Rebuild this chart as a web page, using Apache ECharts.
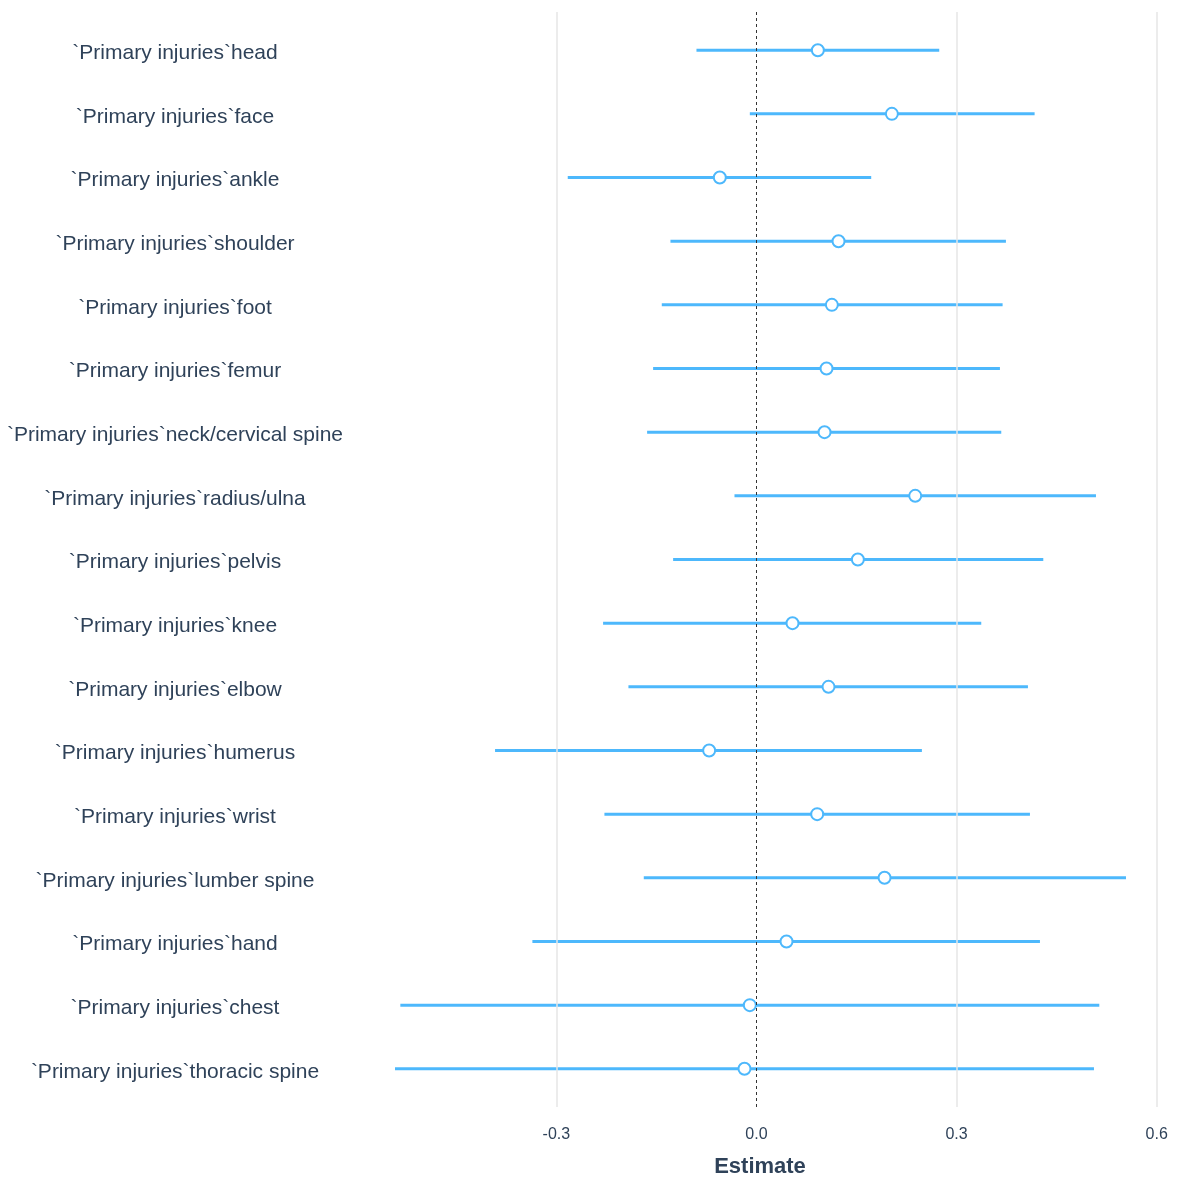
<!DOCTYPE html>
<html>
<head>
<meta charset="utf-8">
<title>Primary injuries estimates</title>
<script src="https://cdn.jsdelivr.net/npm/echarts@6/dist/echarts.min.js"></script>
<style>
  html, body { margin: 0; padding: 0; background: #ffffff; }
  #chart { width: 1179px; height: 1180px; }
</style>
</head>
<body>
<div id="chart"></div>
<script>
// Coefficient terms, top to bottom
const categories = [
  '`Primary injuries`head',
  '`Primary injuries`face',
  '`Primary injuries`ankle',
  '`Primary injuries`shoulder',
  '`Primary injuries`foot',
  '`Primary injuries`femur',
  '`Primary injuries`neck/cervical spine',
  '`Primary injuries`radius/ulna',
  '`Primary injuries`pelvis',
  '`Primary injuries`knee',
  '`Primary injuries`elbow',
  '`Primary injuries`humerus',
  '`Primary injuries`wrist',
  '`Primary injuries`lumber spine',
  '`Primary injuries`hand',
  '`Primary injuries`chest',
  '`Primary injuries`thoracic spine'
];

// Point estimates
const estimates = [0.092, 0.203, -0.055, 0.123, 0.113, 0.105, 0.102, 0.238, 0.152, 0.054, 0.108, -0.071, 0.091, 0.192, 0.045, -0.010, -0.018];

// Lower and upper interval bounds
const lower = [-0.090, -0.010, -0.283, -0.129, -0.142, -0.155, -0.164, -0.033, -0.125, -0.230, -0.192, -0.392, -0.228, -0.169, -0.336, -0.534, -0.542];
const upper = [0.274, 0.417, 0.172, 0.374, 0.369, 0.365, 0.367, 0.509, 0.430, 0.337, 0.407, 0.248, 0.410, 0.554, 0.425, 0.514, 0.506];

// Estimate axis ticks
const xTicks = [-0.3, 0.0, 0.3, 0.6];

const BLUE = '#4db8fc';
const TEXT = '#2f4259';
const FONT = '"Liberation Sans", Arial, sans-serif';

const rowIndex = categories.map((_, i) => i);
const intervalData = categories.map((_, i) => [lower[i], i, upper[i]]);
const pointData = categories.map((_, i) => [estimates[i], i]);

const chart = echarts.init(document.getElementById('chart'), null, { renderer: 'canvas' });

chart.setOption({
  backgroundColor: '#ffffff',
  animation: false,
  graphic: [
    {
      // axis title
      type: 'text',
      x: 760,
      y: 1167,
      style: {
        text: 'Estimate',
        fontFamily: FONT,
        fontSize: 22,
        fontWeight: 'bold',
        fill: TEXT,
        textAlign: 'center',
        textVerticalAlign: 'middle'
      }
    }
  ],
  grid: { left: 393, right: 19, top: 12, bottom: 73, containLabel: false },
  xAxis: {
    type: 'value',
    min: -0.545,
    max: 0.605,
    axisLine: { show: false },
    axisTick: { show: false },
    splitLine: { show: false },
    axisLabel: {
      customValues: xTicks,
      formatter: v => v.toFixed(1),
      margin: 20,
      fontFamily: FONT,
      fontSize: 16,
      color: TEXT
    }
  },
  yAxis: {
    type: 'value',
    inverse: true,
    min: -0.6,
    max: categories.length - 0.4,
    axisLine: { show: false },
    axisTick: { show: false },
    splitLine: { show: false },
    axisLabel: {
      customValues: rowIndex,
      formatter: v => '{t|' + categories[Math.round(v)] + '}',
      align: 'center',
      verticalAlign: 'middle',
      margin: 218,
      rich: {
        t: {
          fontFamily: FONT,
          fontSize: 21,
          color: TEXT,
          padding: [6, 0, 0, 0]
        }
      }
    }
  },
  series: [
    {
      // vertical reference lines
      type: 'scatter',
      data: [],
      z: 1,
      silent: true,
      markLine: {
        silent: true,
        symbol: 'none',
        label: { show: false },
        data: [
          { xAxis: -0.3, lineStyle: { color: '#e6e6e6', width: 1.5, type: 'solid' } },
          { xAxis: 0.3, lineStyle: { color: '#e6e6e6', width: 1.5, type: 'solid' } },
          { xAxis: 0.6, lineStyle: { color: '#e6e6e6', width: 1.5, type: 'solid' } },
          { xAxis: 0.0, lineStyle: { color: '#333333', width: 1, type: [3, 3] } }
        ]
      }
    },
    {
      // interval bars
      type: 'custom',
      z: 3,
      data: intervalData,
      encode: { x: [0, 2], y: 1 },
      renderItem: function (params, api) {
        const y = api.value(1);
        const a = api.coord([api.value(0), y]);
        const b = api.coord([api.value(2), y]);
        return {
          type: 'line',
          shape: { x1: a[0], y1: a[1], x2: b[0], y2: b[1] },
          style: { stroke: BLUE, lineWidth: 3 }
        };
      }
    },
    {
      // point estimates
      type: 'scatter',
      z: 4,
      data: pointData,
      symbol: 'circle',
      symbolSize: 12,
      itemStyle: { color: '#ffffff', borderColor: BLUE, borderWidth: 2, opacity: 1 }
    }
  ]
});
</script>
</body>
</html>
